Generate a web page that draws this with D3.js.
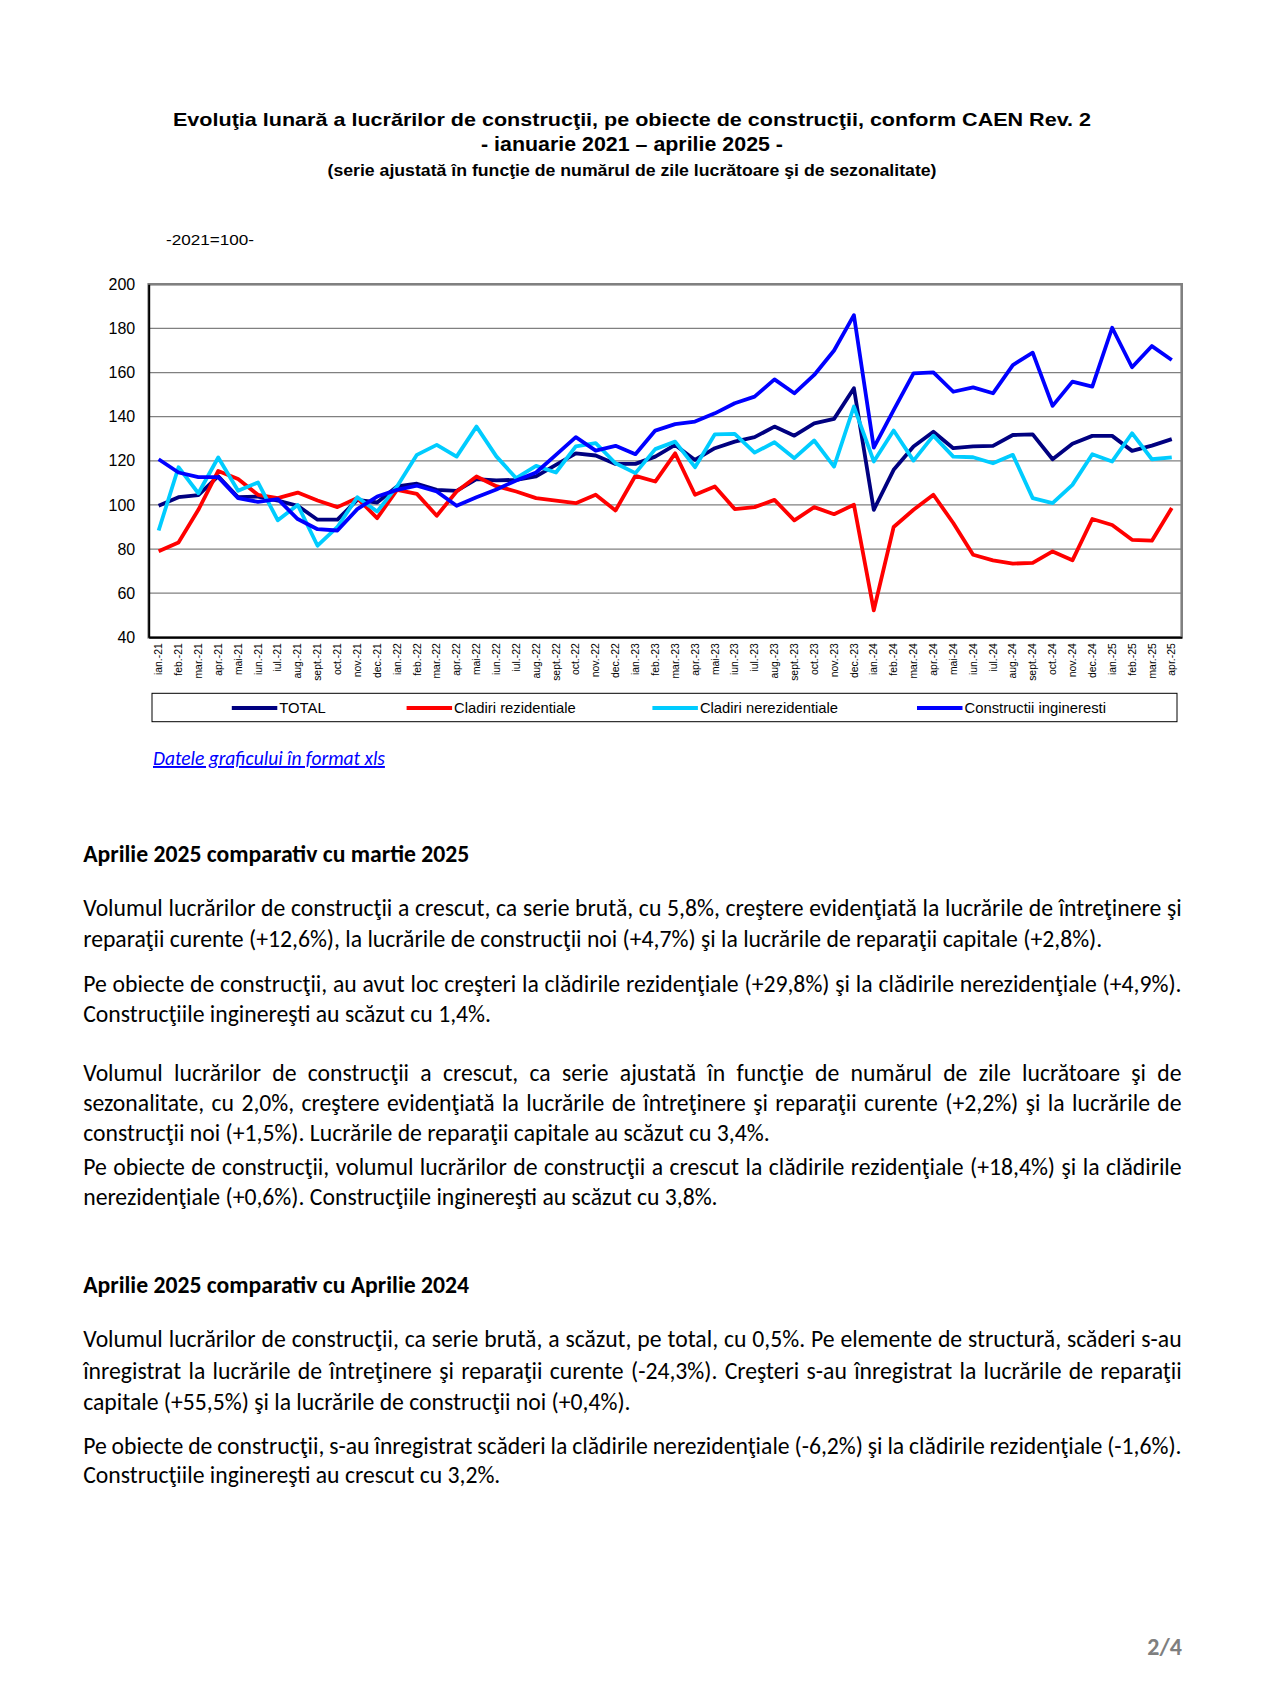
<!DOCTYPE html>
<html><head><meta charset="utf-8">
<script src="https://cdn.jsdelivr.net/npm/d3@7"></script>
<style>
body{margin:0;background:#fff;}
svg{display:block;}
</style></head>
<body>
<svg id="page" width="1267" height="1694"></svg>
<script>
// ---------- DATA ----------
const months = ["ian.-21","feb.-21","mar.-21","apr.-21","mai-21","iun.-21","iul.-21","aug.-21","sept.-21","oct.-21","nov.-21","dec.-21",
"ian.-22","feb.-22","mar.-22","apr.-22","mai-22","iun.-22","iul.-22","aug.-22","sept.-22","oct.-22","nov.-22","dec.-22",
"ian.-23","feb.-23","mar.-23","apr.-23","mai-23","iun.-23","iul.-23","aug.-23","sept.-23","oct.-23","nov.-23","dec.-23",
"ian.-24","feb.-24","mar.-24","apr.-24","mai-24","iun.-24","iul.-24","aug.-24","sept.-24","oct.-24","nov.-24","dec.-24",
"ian.-25","feb.-25","mar.-25","apr.-25"];
const total = [99.6,103.5,104.4,113,103.5,103.8,102,99.6,93.3,93.3,102.3,101.1,
108.4,109.6,106.8,106.4,111.7,111.1,111.4,112.9,118.2,123.4,122.4,118.6,
118.6,121.9,127.2,120.4,125.7,128.7,130.7,135.5,131.4,137,139,152.9,
97.8,115.9,126.5,133.2,125.7,126.5,126.8,131.7,132,120.7,127.7,131.3,
131.3,124.5,126.9,129.8];
const rezidentiale = [79,83,97.8,115.4,111.7,104.6,103.1,105.6,102,99,103.1,94,
106.8,105,95.1,106.1,112.9,108.5,106.1,103.1,102,100.8,104.6,97.5,
113.2,110.6,123.4,104.6,108.4,98.1,99,102.3,93,99,95.8,100.1,
52.2,90,97.8,104.6,91.8,77.4,74.9,73.4,73.7,78.9,74.9,93.6,
90.9,84.2,83.8,98.6];
const nerezidentiale = [88.4,117.1,105.3,121.5,106.4,110.2,93,100,81.5,90,103.5,97,
108.4,122.7,127.2,121.9,135.5,122,112.1,117.7,114.7,126.5,128,118.9,
114.4,125.3,128.7,117.1,132,132.2,123.7,128.4,121.2,129.2,117.4,144.6,
119.7,133.7,120.1,131.4,121.9,121.6,118.9,122.7,103.1,100.8,109.1,123,
119.7,132.5,120.7,121.6];
const ingineresti = [120.7,114.7,112.6,112.6,103.1,101.4,102.6,93.6,89,88.4,98.1,103.8,
106.8,108.7,106.1,99.6,103.5,107,111.1,114.7,122.7,130.7,124.6,126.8,
123,133.7,136.6,137.8,141.5,146.1,149.1,156.9,150.6,158.9,170,186,
126,143,159.6,160.1,151.3,153.3,150.6,163.4,169,144.9,155.9,153.6,
180.3,162.4,172,165.7];
const seriesNames = ["TOTAL","Cladiri rezidentiale","Cladiri nerezidentiale","Constructii ingineresti"];
const seriesColors = ["#000080","#FF0000","#00CCFF","#0000FF"];
const yTicks = [40,60,80,100,120,140,160,180,200];

const titleTexts = ["Evoluţia lunară a lucrărilor de construcţii, pe obiecte de construcţii, conform CAEN Rev. 2",
"- ianuarie 2021 – aprilie 2025 -",
"(serie ajustată în funcţie de numărul de zile lucrătoare şi de sezonalitate)"];
const unitText = "-2021=100-";
const linkText = "Datele graficului în format xls";
const heading1 = "Aprilie 2025 comparativ cu martie 2025";
const heading2 = "Aprilie 2025 comparativ cu Aprilie 2024";
// [text, justified]
const para1 = [["Volumul lucrărilor de construcţii a crescut, ca serie brută, cu 5,8%, creştere evidenţiată la lucrările de întreţinere şi",1],
["reparaţii curente (+12,6%), la lucrările de construcţii noi (+4,7%) şi la lucrările de reparaţii capitale (+2,8%).",0]];
const para2 = [["Pe obiecte de construcţii, au avut loc creşteri la clădirile rezidenţiale (+29,8%) şi la clădirile nerezidenţiale (+4,9%).",1],
["Construcţiile inginereşti au scăzut cu 1,4%.",0]];
const para3 = [["Volumul lucrărilor de construcţii a crescut, ca serie ajustată în funcţie de numărul de zile lucrătoare şi de",1],
["sezonalitate, cu 2,0%, creştere evidenţiată la lucrările de întreţinere şi reparaţii curente (+2,2%) şi la lucrările de",1],
["construcţii noi (+1,5%). Lucrările de reparaţii capitale au scăzut cu 3,4%.",0],
["Pe obiecte de construcţii, volumul lucrărilor de construcţii a crescut la clădirile rezidenţiale (+18,4%) şi la clădirile",1],
["nerezidenţiale (+0,6%). Construcţiile inginereşti au scăzut cu 3,8%.",0]];
const para5 = [["Volumul lucrărilor de construcţii, ca serie brută, a scăzut, pe total, cu 0,5%. Pe elemente de structură, scăderi s-au",1],
["înregistrat la lucrările de întreţinere şi reparaţii curente (-24,3%). Creşteri s-au înregistrat la lucrările de reparaţii",1],
["capitale (+55,5%) şi la lucrările de construcţii noi (+0,4%).",0]];
const para6 = [["Pe obiecte de construcţii, s-au înregistrat scăderi la clădirile nerezidenţiale (-6,2%) şi la clădirile rezidenţiale (-1,6%).",1],
["Construcţiile inginereşti au crescut cu 3,2%.",0]];
const pageNum = "2/4";

// ---------- DRAW ----------
const svg = d3.select("#page");
const chartFont = "'Liberation Sans', Arial, sans-serif";
const bodyFont = "Carlito, Calibri, Lato, sans-serif";

// titles
const titleLayout = [{y:125.5,size:19,len:918},{y:150.5,size:19.5,len:302},{y:175.5,size:17,len:609}];
titleTexts.forEach((t,i)=>{
  svg.append("text").attr("x",632).attr("y",titleLayout[i].y)
    .attr("text-anchor","middle").attr("font-family",chartFont).attr("font-weight","bold")
    .attr("font-size",titleLayout[i].size).attr("textLength",titleLayout[i].len)
    .attr("lengthAdjust","spacingAndGlyphs").attr("fill","#000").text(t);
});
svg.append("text").attr("x",166).attr("y",245).attr("font-family",chartFont)
  .attr("font-size",15).attr("textLength",88).attr("lengthAdjust","spacingAndGlyphs").text(unitText);

// chart
const plot = {left:148.7,right:1181.7,top:284.3,bottom:637.3};
const x = d3.scaleBand().domain(months).range([plot.left,plot.right]);
const y = d3.scaleLinear().domain([40,200]).range([plot.bottom,plot.top]);
const cx = m => x(m)+x.bandwidth()/2;

svg.append("g").selectAll("line").data(yTicks.filter(t=>t>40&&t<200)).join("line")
  .attr("x1",plot.left).attr("x2",plot.right).attr("y1",d=>y(d)).attr("y2",d=>y(d))
  .attr("stroke","#808080").attr("stroke-width",1.3);
svg.append("rect").attr("x",plot.left).attr("y",plot.top).attr("width",plot.right-plot.left)
  .attr("height",plot.bottom-plot.top).attr("fill","none").attr("stroke","#808080").attr("stroke-width",2.6);

const yAxis = svg.append("g").attr("transform",`translate(${plot.left},0)`)
  .call(d3.axisLeft(y).tickValues(yTicks).tickSize(0).tickPadding(13.5));
yAxis.select(".domain").attr("stroke","#000").attr("stroke-width",2);
yAxis.selectAll("text").attr("font-family",chartFont).attr("font-size",16).attr("fill","#000");

const xAxis = svg.append("g").attr("transform",`translate(0,${plot.bottom})`)
  .call(d3.axisBottom(x).tickSize(0));
xAxis.select(".domain").attr("stroke","#000").attr("stroke-width",2);
xAxis.selectAll("text").attr("font-family",chartFont).attr("font-size",10.4).attr("fill","#000")
  .attr("transform","rotate(-90)").attr("text-anchor","end").attr("x",-6).attr("y",0).attr("dy","0.35em");

const seriesData = [total,rezidentiale,nerezidentiale,ingineresti];
const line = d3.line().x((d,i)=>cx(months[i])).y(d=>y(d));
svg.append("g").selectAll("path").data(seriesData).join("path")
  .attr("d",line).attr("fill","none").attr("stroke",(d,i)=>seriesColors[i])
  .attr("stroke-width",3.8).attr("stroke-linejoin","round");

// legend
svg.append("rect").attr("x",152).attr("y",693.3).attr("width",1025).attr("height",28.4)
  .attr("fill","#fff").attr("stroke","#000").attr("stroke-width",1);
const legendX = [231.8,406.6,652.4,917];
const lg = svg.append("g").selectAll("g").data(seriesNames).join("g")
  .attr("transform",(d,i)=>`translate(${legendX[i]},708)`);
lg.append("line").attr("x1",0).attr("x2",45.5).attr("y1",0).attr("y2",0)
  .attr("stroke",(d,i)=>seriesColors[i]).attr("stroke-width",4);
lg.append("text").attr("x",47.5).attr("y",0).attr("dy","0.35em").attr("font-family",chartFont)
  .attr("font-size",14.8).text(d=>d);

// link
const link = svg.append("text").attr("x",153).attr("y",765).attr("font-family",bodyFont)
  .attr("font-style","italic").attr("font-size",16).attr("fill","#0000FF")
  .attr("text-decoration","underline").text(linkText);
{
  const w = link.node().getComputedTextLength();
  link.attr("font-size",16*232/w);
}

// body text
const bx0 = 83.2, bW = 1098.4;
const probe = svg.append("text").attr("font-family",bodyFont).attr("font-size",20).text(para2[0][0]);
const natural = probe.node().getComputedTextLength();
probe.remove();
const bodySize = 20*1092/natural;

function heading(t,yb){
  svg.append("text").attr("x",bx0).attr("y",yb).attr("font-family",bodyFont)
   .attr("font-weight","bold").attr("font-size",bodySize).attr("fill","#000").text(t);
}
function para(lines, ys){
  lines.forEach((l,i)=>{
    const t = svg.append("text").attr("x",bx0).attr("y",ys[i]).attr("font-family",bodyFont)
      .attr("font-size",bodySize).attr("fill","#000").text(l[0]);
    if(l[1]){
      const w = t.node().getComputedTextLength();
      const n = (l[0].match(/ /g)||[]).length;
      t.attr("word-spacing",(bW-w)/n);
    }
  });
}
heading(heading1,861.5);
para(para1,[916.4,946.6]);
para(para2,[992,1022.2]);
para(para3,[1080.5,1110.8,1141,1174.5,1204.8]);
heading(heading2,1293.3);
para(para5,[1347.3,1378.7,1410]);
para(para6,[1454.3,1483.4]);

svg.append("text").attr("x",1182).attr("y",1655).attr("text-anchor","end")
  .attr("font-family",bodyFont).attr("font-weight","bold").attr("font-size",24)
  .attr("fill","#7f7f7f").text(pageNum);
</script>
</body></html>
